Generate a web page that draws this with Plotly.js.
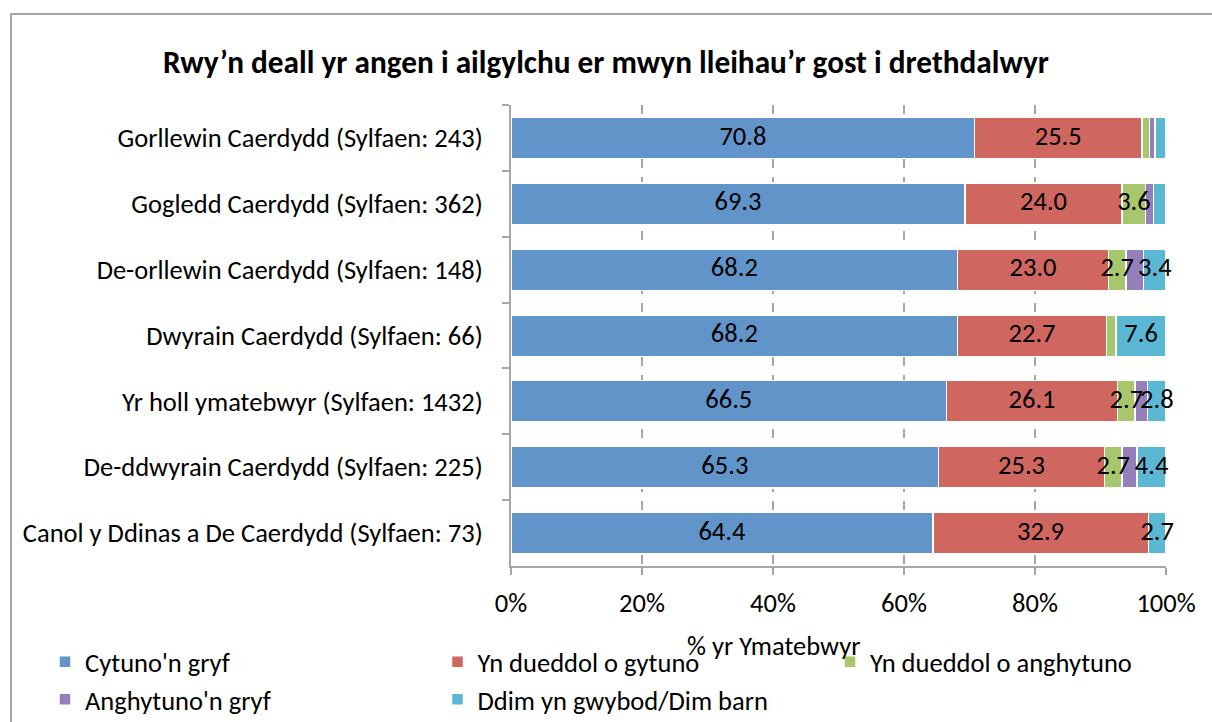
<!DOCTYPE html>
<html>
<head>
<meta charset="utf-8">
<script src="https://cdn.plot.ly/plotly-3.0.1.min.js"></script>
<style>
  html, body { margin: 0; padding: 0; background: #fff; }
  #chart { position: absolute; left: 0; top: 0; width: 1212px; height: 722px; }
  #frame { position: absolute; left: 10px; top: 13px; width: 1300px; height: 800px;
           border-left: 2px solid #A6A6A6; border-top: 2px solid #A6A6A6; pointer-events: none; }
</style>
</head>
<body>
<div id="chart"></div>
<div id="frame"></div>
<script>
const categories = [
  "Gorllewin Caerdydd (Sylfaen: 243)",
  "Gogledd Caerdydd (Sylfaen: 362)",
  "De-orllewin Caerdydd (Sylfaen: 148)",
  "Dwyrain Caerdydd (Sylfaen: 66)",
  "Yr holl ymatebwyr (Sylfaen: 1432)",
  "De-ddwyrain Caerdydd (Sylfaen: 225)",
  "Canol y Ddinas a De Caerdydd (Sylfaen: 73)"
];
const seriesNames = ["Cytuno'n gryf", "Yn dueddol o gytuno", "Yn dueddol o anghytuno", "Anghytuno'n gryf", "Ddim yn gwybod/Dim barn"];
const cytunoGryf      = [70.8, 69.3, 68.2, 68.2, 66.5, 65.3, 64.4];
const dueddolGytuno   = [25.5, 24.0, 23.0, 22.7, 26.1, 25.3, 32.9];
const dueddolAnghytuno= [1.2, 3.6, 2.7, 1.5, 2.7, 2.7, 0];
const anghytunoGryf   = [0.8, 1.2, 2.7, 0, 1.9, 2.3, 0];
const ddimGwybod      = [1.7, 1.9, 3.4, 7.6, 2.8, 4.4, 2.7];
const showLabels      = [true, true, true, false, true];
const colors = ["#6195C9", "#CF6660", "#A8C66C", "#957FBA", "#5BB8D4"];
const legendColumn = ["legend", "legend2", "legend3", "legend", "legend2"];
const xTickVals = [0, 20, 40, 60, 80, 100];
const xTickText = ["0%", "20%", "40%", "60%", "80%", "100%"];
const xAxisTitle = "% yr Ymatebwyr";
const chartTitle = "Rwy’n deall yr angen i ailgylchu er mwyn lleihau’r gost i drethdalwyr";

const FONT = "Carlito, Calibri, Lato, 'Open Sans', sans-serif";
const FS = 26.5;
const allValues = [cytunoGryf, dueddolGytuno, dueddolAnghytuno, anghytunoGryf, ddimGwybod];

const traces = allValues.map((vals, i) => ({
  type: "bar",
  orientation: "h",
  name: seriesNames[i],
  legend: legendColumn[i],
  y: categories,
  x: vals,
  marker: { color: colors[i], line: { color: "#ffffff", width: 1.5 } },
  hoverinfo: "name+x"
}));

// data labels drawn on top of all bars (centre of each segment, from the data)
const cum = categories.map(() => 0);
allValues.forEach((vals, i) => {
  const xs = [], ys = [], ts = [];
  vals.forEach((v, j) => {
    const c = cum[j] + v / 2;
    cum[j] += v;
    if (showLabels[i] && v >= 2.5) { xs.push(c); ys.push(categories[j]); ts.push(v.toFixed(1)); }
  });
  traces.push({
    type: "scatter", mode: "text", x: xs, y: ys, text: ts,
    textposition: "middle center", cliponaxis: false,
    textfont: { family: FONT, size: FS, color: "#000" },
    showlegend: false, hoverinfo: "skip"
  });
});

function legendAt(px) {
  return {
    orientation: "v",
    xref: "container", yref: "container",
    x: px / 1212, xanchor: "left",
    y: 1 - 638 / 722, yanchor: "top",
    traceorder: "normal",
    font: { family: FONT, size: FS, color: "#000" },
    itemwidth: 30,
    bgcolor: "rgba(0,0,0,0)"
  };
}

const layout = {
  width: 1212, height: 722,
  paper_bgcolor: "#fff", plot_bgcolor: "#fff",
  barmode: "stack",
  bargap: 0.37,
  margin: { l: 511, r: 46, t: 105, b: 156, autoexpand: false },
  font: { family: FONT, size: FS, color: "#000" },
  title: {
    text: "<b>" + chartTitle + "</b>",
    font: { family: FONT, size: 31.3, color: "#000" },
    x: 0.5, xref: "container", xanchor: "center",
    y: 1 - 62 / 722, yref: "container", yanchor: "middle"
  },
  xaxis: {
    range: [0, 100],
    tickvals: xTickVals, ticktext: xTickText,
    showgrid: true, gridcolor: "#A6A6A6", gridwidth: 2, griddash: "dash",
    showline: true, linecolor: "#A6A6A6", linewidth: 2,
    ticks: "outside", ticklen: 7, tickwidth: 2, tickcolor: "#A6A6A6",
    ticklabelstandoff: 5,
    zeroline: false, fixedrange: true,
    tickfont: { family: FONT, size: FS, color: "#000" }
  },
  yaxis: {
    type: "category",
    autorange: "reversed",
    showline: true, linecolor: "#A6A6A6", linewidth: 2,
    ticks: "outside", ticklen: 7, tickwidth: 2, tickcolor: "#A6A6A6",
    tickson: "boundaries",
    ticklabelstandoff: 21,
    showgrid: false, fixedrange: true,
    tickfont: { family: FONT, size: FS, color: "#000" }
  },
  showlegend: true,
  legend: legendAt(45),
  legend2: legendAt(437.5),
  legend3: legendAt(830),
  annotations: [{
    text: xAxisTitle,
    xref: "paper", yref: "paper",
    x: (773 - 511) / 655, y: -(646 - 566) / 461,
    xanchor: "center", yanchor: "middle",
    showarrow: false,
    font: { family: FONT, size: FS, color: "#000" }
  }]
};

Plotly.newPlot("chart", traces, layout, { displayModeBar: false, staticPlot: true });
</script>
</body>
</html>
